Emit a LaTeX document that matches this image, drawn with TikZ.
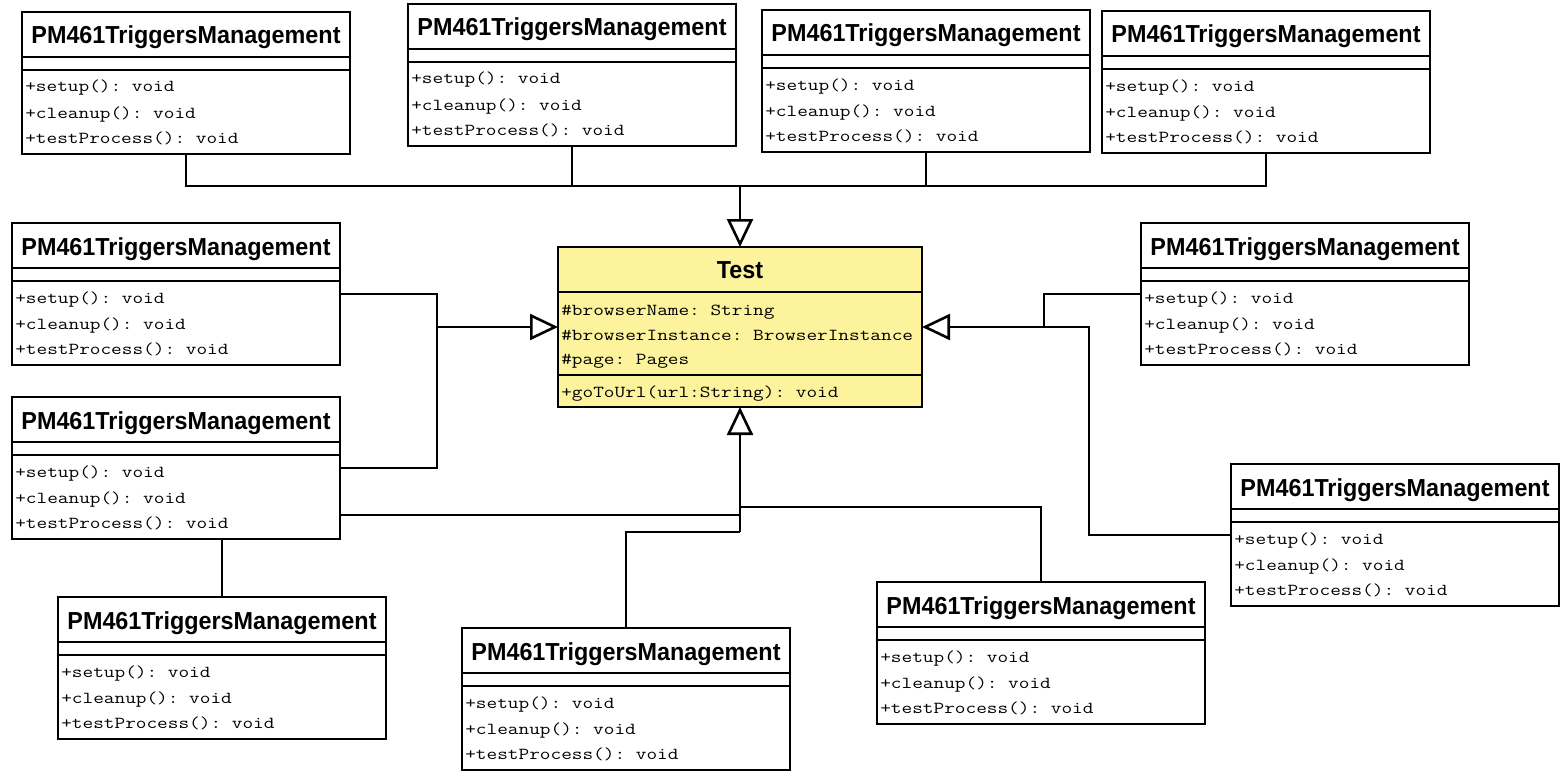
\documentclass[tikz,border=0pt]{standalone}
\usepackage{fontspec}
\usepackage{graphicx}
\setmainfont{Liberation Sans}
\usetikzlibrary{arrows.meta}
\definecolor{testfill}{RGB}{253,243,156}

% class header text: heavy, slightly condensed sans
\newcommand\pmhead[1]{\scalebox{0.95}[1]{\fontsize{24.6pt}{26pt}\selectfont\bfseries #1}}
% member text: serif monospace, a little flattened
\newcommand\pmop[1]{\scalebox{1}[0.81]{\fontsize{20.7pt}{24pt}\selectfont\ttfamily\frenchspacing #1}}

% one PM461TriggersManagement class box with its top-left corner at (#2,#3)
\newcommand\pmclass[3]{%
  \node[clsbox, anchor=north west] (#1) at (#2,#3) {};
  \draw ([yshift=-45pt]#1.north west) -- ([yshift=-45pt]#1.north east);
  \draw ([yshift=-58pt]#1.north west) -- ([yshift=-58pt]#1.north east);
  \node[head] at ([yshift=-32pt]#1.north) {\pmhead{PM461TriggersManagement}};
  \node[op] at ([xshift=2pt,yshift=-80pt]#1.north west) {\pmop{+setup(): void}};
  \node[op] at ([xshift=2pt,yshift=-106pt]#1.north west) {\pmop{+cleanup(): void}};
  \node[op] at ([xshift=2pt,yshift=-131pt]#1.north west) {\pmop{+testProcess(): void}};
}

\begin{document}
\begin{tikzpicture}[x=1pt, y=-1pt, line width=2.6pt,
  clsbox/.style={draw, fill=white, inner sep=0pt, outer sep=0pt,
                 minimum width=328pt, minimum height=142pt},
  head/.style={inner sep=0pt, anchor=base},
  op/.style={inner sep=0pt, anchor=base west},
  gen/.style={-{Triangle[open, length=28pt, width=26pt]}}]

\useasboundingbox[fill=white] (0,0) rectangle (1565,776);

% superclass
\node[draw, fill=testfill, inner sep=0pt, outer sep=0pt,
      minimum width=364pt, minimum height=160pt, anchor=north west] (test) at (558,247) {};
\draw ([yshift=-45pt]test.north west) -- ([yshift=-45pt]test.north east);
\draw ([yshift=-128pt]test.north west) -- ([yshift=-128pt]test.north east);
\node[head] at ([yshift=-31pt]test.north) {\pmhead{Test}};
\node[op] at ([xshift=2pt,yshift=-68pt]test.north west) {\pmop{\#browserName: String}};
\node[op] at ([xshift=2pt,yshift=-93pt]test.north west) {\pmop{\#browserInstance: BrowserInstance}};
\node[op] at ([xshift=2pt,yshift=-117pt]test.north west) {\pmop{\#page: Pages}};
\node[op] at ([xshift=2pt,yshift=-150pt]test.north west) {\pmop{+goToUrl(url:String): void}};

% subclasses
\pmclass{ca}{22}{12}
\pmclass{cb}{408}{4}
\pmclass{cc}{762}{10}
\pmclass{cd}{1102}{11}
\pmclass{ce}{12}{223}
\pmclass{cf}{12}{397}
\pmclass{cg}{58}{597}
\pmclass{ch}{462}{628}
\pmclass{ci}{877}{582}
\pmclass{cj}{1141}{223}
\pmclass{ck}{1231}{464}

% junction points of the connector trees
\coordinate (tj) at (740,186);
\coordinate (lj) at (437,327);
\coordinate (rj) at (1044,327);
\coordinate (rk) at (1089,327);
\coordinate (bi) at (740,507);
\coordinate (bf) at (740,515);
\coordinate (bh) at (740,532);

% top group
\draw (ca.south) |- (tj);
\draw (cb.south) |- (tj);
\draw (cc.south) |- (tj);
\draw (cd.south) |- (tj);
\draw[gen] (tj) -- (test.north);

% left group
\draw (ce.east) -| (lj);
\draw (cf.east) -| (lj);
\draw[gen] (lj) -- (lj -| test.west);

% right group
\draw (cj.west) -| (rj);
\draw (ck.west) -| (rk) -- (rj);
\draw[gen] (rj) -- (rj -| test.east);

% bottom group
\draw (ci.north) |- (bi);
\draw ([yshift=-47pt]cf.east) -- (bf);
\draw (ch.north) |- (bh);
\draw[gen] (bh) -- (test.south);
\draw (cg.north) -- (cg.north |- cf.south);

\end{tikzpicture}
\end{document}
